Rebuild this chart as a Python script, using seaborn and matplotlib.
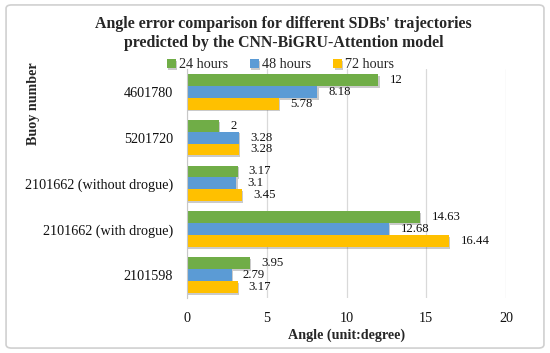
import pandas as pd
import matplotlib
matplotlib.use("Agg")
import matplotlib.pyplot as plt
import matplotlib.patheffects as pe
import seaborn as sns
from matplotlib.patches import FancyBboxPatch

# ── Data ──────────────────────────────────────────────────
buoys = ['4601780', '5201720', '2101662 (without drogue)',
         '2101662 (with drogue)', '2101598']
hours_24 = [12, 2, 3.17, 14.63, 3.95]
hours_48 = [8.18, 3.28, 3.1, 12.68, 2.79]
hours_72 = [5.78, 3.28, 3.45, 16.44, 3.17]
series = ['24 hours', '48 hours', '72 hours']
colors = ['#70AD47', '#5B9BD5', '#FFC000']

df = pd.concat([
    pd.DataFrame({'Buoy': buoys, 'Angle': vals, 'Series': name})
    for name, vals in zip(series, [hours_24, hours_48, hours_72])
])

# ── Plot ──────────────────────────────────────────────────
sns.set_style('white')
plt.rcParams['font.family'] = ['Liberation Serif', 'DejaVu Serif']

fig = plt.figure(figsize=(5.5, 3.53), dpi=100)
ax = fig.add_axes([0.34, 0.156, 0.58, 0.649])

sns.barplot(data=df, y='Buoy', x='Angle', hue='Series', order=buoys,
            hue_order=series, palette=colors, orient='h', width=0.78,
            ax=ax, saturation=1, errorbar=None, linewidth=0)

# soft drop shadow like the original
for p in ax.patches:
    p.set_path_effects([pe.SimplePatchShadow(offset=(0.8, -1.3), alpha=0.28,
                                             shadow_rgbFace='#444444'),
                        pe.Normal()])

for cont in ax.containers:
    ax.bar_label(cont, labels=[f'{v:g}' for v in cont.datavalues],
                 padding=8, fontsize=9.2, color='#111111')

ax.set_xlim(0, 20)
ax.set_xticks([0, 5, 10, 15, 20])
ax.grid(axis='x', color='#d9d9d9', linewidth=0.9)
ax.set_axisbelow(True)
for s in ['top', 'right', 'bottom']:
    ax.spines[s].set_visible(False)
ax.spines['left'].set_color('#c8c8c8')
ax.tick_params(axis='both', length=0, labelsize=10.2, colors='#111111')
ax.tick_params(axis='y', pad=10)
ax.tick_params(axis='x', pad=10)
ax.set_ylabel('')
ax.set_xlabel('Angle (unit:degree)', fontsize=10.2, fontweight='bold', labelpad=3)

fig.text(0.06, 0.705, 'Buoy number', rotation=90, ha='center', va='center',
         fontsize=10.2, fontweight='bold')

fig.text(0.516, 0.905,
         "Angle error comparison for different SDBs' trajectories\n"
         "predicted by the CNN-BiGRU-Attention model",
         ha='center', va='center', fontsize=11.4, fontweight='bold',
         linespacing=1.2)

handles, labels = ax.get_legend_handles_labels()
ax.get_legend().remove()
fig.legend(handles, labels, loc='center', bbox_to_anchor=(0.51, 0.816), ncol=3,
           frameon=False, fontsize=10.2, handlelength=0.6, handleheight=0.6,
           handletextpad=0.2, columnspacing=1.6, borderaxespad=0)

frame = FancyBboxPatch((0.011, 0.014), 0.978, 0.972, boxstyle='round,pad=0,rounding_size=0.01',
                       transform=fig.transFigure, fill=False, edgecolor='#d0d0d0',
                       linewidth=1.2)
fig.patches.append(frame)

plt.savefig('out.png', dpi=100)
plt.close()
